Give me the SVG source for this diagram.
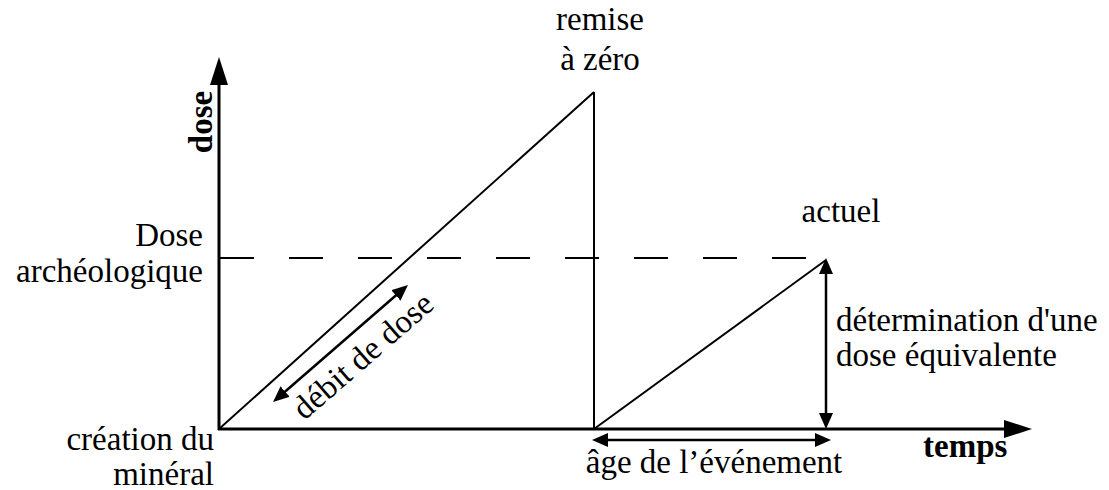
<svg xmlns="http://www.w3.org/2000/svg" width="1109" height="490" viewBox="0 0 1109 490">
<style>
text{font-family:"Liberation Serif","Times New Roman",serif;font-size:33px;fill:#000}
.b{font-weight:bold}
.ax{stroke:#000;stroke-width:3;fill:none}
.ln{stroke:#000;stroke-width:2;fill:none}
.ar{stroke:#000;stroke-width:2.5;fill:none}
</style>
<defs>
<marker id="big" markerUnits="userSpaceOnUse" markerWidth="28" markerHeight="18" refX="8" refY="9" orient="auto"><path d="M0,0 L28,9 L0,18 z" fill="#000"/></marker>
<marker id="sm" markerUnits="userSpaceOnUse" markerWidth="16" markerHeight="14" refX="6" refY="7" orient="auto-start-reverse"><path d="M0,0 L16,7 L0,14 z" fill="#000"/></marker>
</defs>
<rect width="1109" height="490" fill="#fff"/>
<g id="connectors">
<line class="ax" x1="219" y1="430" x2="219" y2="77" marker-end="url(#big)"/>
<line class="ax" x1="218" y1="429" x2="1012" y2="429" marker-end="url(#big)"/>
<line class="ln" x1="219" y1="429" x2="594" y2="92"/>
<line class="ln" x1="594" y1="92" x2="594" y2="429"/>
<line class="ln" x1="594" y1="429" x2="826" y2="260"/>
<line class="ln" x1="220" y1="258" x2="810" y2="258" stroke-dasharray="34 35"/>
<line class="ar" x1="602" y1="440" x2="821" y2="440" marker-start="url(#sm)" marker-end="url(#sm)"/>
<line class="ar" x1="826" y1="268" x2="826" y2="419" marker-start="url(#sm)" marker-end="url(#sm)"/>
<line class="ar" x1="280.6" y1="395.5" x2="400.4" y2="291.5" marker-start="url(#sm)" marker-end="url(#sm)"/>
</g>
<g id="label-dose"><text class="b" transform="translate(212,122) rotate(-90)" text-anchor="middle">dose</text></g>
<g id="label-temps"><text class="b" x="923" y="457">temps</text></g>
<g id="label-remise"><text x="600" y="30" text-anchor="middle">remise</text><text x="600" y="70" text-anchor="middle">à zéro</text></g>
<g id="label-dosearch"><text x="203" y="246" text-anchor="end">Dose</text><text x="203" y="282" text-anchor="end">archéologique</text></g>
<g id="label-actuel"><text x="841" y="222" text-anchor="middle">actuel</text></g>
<g id="label-determination"><text x="836" y="331">détermination d'une</text><text x="836" y="366">dose équivalente</text></g>
<g id="label-creation"><text x="214" y="450" text-anchor="end">création du</text><text x="214" y="485" text-anchor="end">minéral</text></g>
<g id="label-age"><text x="714" y="473" text-anchor="middle">âge de l’événement</text></g>
<g id="label-debit"><text transform="translate(370,364) rotate(-41)" text-anchor="middle">débit de dose</text></g>
</svg>
